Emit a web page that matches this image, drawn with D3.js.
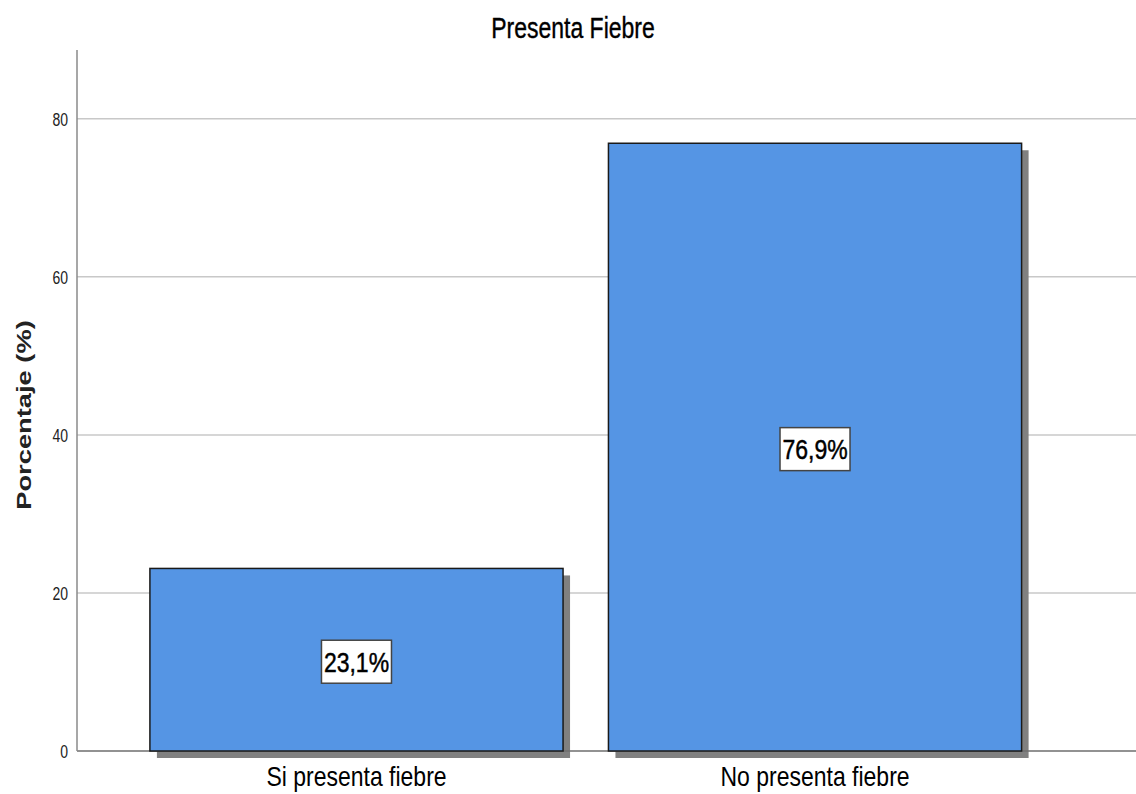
<!DOCTYPE html>
<html>
<head>
<meta charset="utf-8">
<script src="https://cdn.jsdelivr.net/npm/d3@7.9.0/dist/d3.min.js"></script>
<style>
  body { margin: 0; background: #fff; }
  svg { display: block; font-family: "Liberation Sans", Arial, sans-serif; }
</style>
</head>
<body>
<svg id="chart" width="1136" height="794"></svg>
<script>
// data
const categories = ['Si presenta fiebre', 'No presenta fiebre'];
const percents = [23.1, 76.9];
const valueLabels = ['23,1%', '76,9%'];
const yTicks = [0, 20, 40, 60, 80];

const svg = d3.select('#chart');
const width = 1136, height = 794;

let y = d3.scaleLinear().domain([0, 88.7]).range([751, 50]);
let x = d3.scaleBand()
  .domain(categories)
  .range([77, 1094.5])
  .paddingInner(0.099)
  .paddingOuter(0.159);

// gridlines
svg.append('g')
  .selectAll('line')
  .data(yTicks.filter(d => d > 0))
  .join('line')
  .attr('x1', 77).attr('x2', width)
  .attr('y1', d => y(d)).attr('y2', d => y(d))
  .attr('stroke', '#c8c8c8')
  .attr('stroke-width', 1.5);

// shadows
svg.append('g')
  .selectAll('rect')
  .data(percents)
  .join('rect')
  .attr('x', (d, i) => x(categories[i]) + 7)
  .attr('y', d => y(d) + 7)
  .attr('width', x.bandwidth())
  .attr('height', d => y(0) - y(d))
  .attr('fill', '#808080');

// baseline + y axis line
svg.append('line')
  .attr('x1', 77).attr('x2', width)
  .attr('y1', y(0)).attr('y2', y(0))
  .attr('stroke', '#6e6e6e').attr('stroke-width', 1.5);
svg.append('line')
  .attr('x1', 77).attr('x2', 77)
  .attr('y1', y.range()[1]).attr('y2', y(0))
  .attr('stroke', '#8a8a8a').attr('stroke-width', 1.5);

// bars
svg.append('g')
  .selectAll('rect')
  .data(percents)
  .join('rect')
  .attr('x', (d, i) => x(categories[i]))
  .attr('y', d => y(d))
  .attr('width', x.bandwidth())
  .attr('height', d => y(0) - y(d))
  .attr('fill', '#5595e4')
  .attr('stroke', '#1a1a1a')
  .attr('stroke-width', 1.5);

// value labels (the original image is stretched vertically, hence scale)
const lab = svg.append('g')
  .selectAll('g')
  .data(percents)
  .join('g')
  .attr('transform', (d, i) => `translate(${x(categories[i]) + x.bandwidth() / 2},${y(d / 2) + 2})`);
lab.append('rect')
  .attr('x', -35).attr('y', -21.5)
  .attr('width', 70).attr('height', 43)
  .attr('fill', '#fff')
  .attr('stroke', '#444')
  .attr('stroke-width', 1.5);
lab.append('text')
  .attr('text-anchor', 'middle')
  .attr('dy', '0.36em')
  .attr('transform', 'scale(1,1.2)')
  .style('font-size', '23px')
  .style('stroke', '#000').style('stroke-width', 0.4)
  .attr('fill', '#000')
  .text((d, i) => valueLabels[i]);

// y tick labels
svg.append('g')
  .selectAll('text')
  .data(yTicks)
  .join('text')
  .attr('transform', d => `translate(68,${y(d)}) scale(1,1.35)`)
  .attr('dy', '0.36em')
  .attr('text-anchor', 'end')
  .style('font-size', '14px')
  .attr('fill', '#222')
  .text(d => d);

// x category labels
svg.append('g')
  .selectAll('text')
  .data(categories)
  .join('text')
  .attr('transform', d => `translate(${x(d) + x.bandwidth() / 2},786) scale(1,1.2)`)
  .attr('text-anchor', 'middle')
  .style('font-size', '23px')
  .attr('fill', '#000')
  .text(d => d);

// title
svg.append('text')
  .attr('transform', 'translate(573,38) scale(1,1.26)')
  .attr('text-anchor', 'middle')
  .style('font-size', '23px')
  .style('stroke', '#000').style('stroke-width', 0.3)
  .attr('fill', '#000')
  .text('Presenta Fiebre');

// y axis title
svg.append('text')
  .attr('transform', `translate(31,415) rotate(-90) scale(1.3,1)`)
  .attr('text-anchor', 'middle')
  .style('font-size', '21px')
  .style('font-weight', 'bold')
  .attr('fill', '#222')
  .text('Porcentaje (%)');
</script>
</body>
</html>
